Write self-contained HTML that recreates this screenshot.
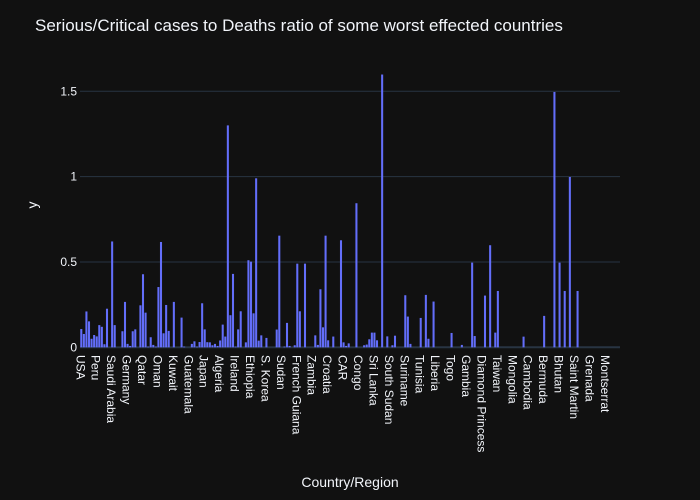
<!DOCTYPE html>
<html><head><meta charset="utf-8"><style>
html,body{margin:0;padding:0;background:#111111;}
svg{display:block;font-family:"Liberation Sans",Arial,sans-serif;}
</style></head><body>
<svg id="chart" width="700" height="500" xmlns="http://www.w3.org/2000/svg">
<rect x="0" y="0" width="700" height="500" fill="#111111"/>
<text x="35" y="31" font-size="17" fill="#f2f5fa">Serious/Critical cases to Deaths ratio of some worst effected countries</text>
<g id="grid"></g>
<g id="bars"></g>
<g id="yticks"></g>
<g id="xticks"></g>
<text transform="translate(37,205) rotate(-90)" text-anchor="middle" font-size="14" fill="#f2f5fa">y</text>
<text x="350" y="487" text-anchor="middle" font-size="14" fill="#f2f5fa">Country/Region</text>
</svg>
<script>
const N = 210;
const tickLabels = ["USA","Peru","Saudi Arabia","Germany","Qatar","Oman","Kuwait","Guatemala","Japan","Algeria","Ireland","Ethiopia","S. Korea","Sudan","French Guiana","Zambia","Croatia","CAR","Congo","Sri Lanka","South Sudan","Suriname","Tunisia","Liberia","Togo","Gambia","Diamond Princess","Taiwan","Mongolia","Cambodia","Bermuda","Bhutan","Saint Martin","Grenada","Montserrat"];
const barIndex = [0,1,2,3,4,5,6,7,8,9,10,12,13,16,17,18,19,20,21,23,24,25,26,27,28,29,30,31,32,33,34,36,39,40,43,44,45,46,47,48,49,50,51,52,53,54,55,56,57,58,59,60,61,62,64,65,66,67,68,69,70,72,76,77,79,80,81,83,84,85,87,91,92,93,94,95,96,98,101,102,103,104,107,110,111,112,113,114,115,117,119,121,122,126,127,128,132,134,135,137,144,148,152,153,157,159,161,162,172,180,184,186,188,190,193];
const barValues = [.107,.078,.21,.152,.05,.072,.064,.13,.12,.018,.226,.62,.13,.094,.266,.02,.008,.094,.105,.246,.428,.203,.004,.059,.014,.004,.353,.617,.082,.248,.096,.266,.174,.004,.02,.035,.004,.031,.258,.105,.03,.029,.012,.02,.008,.04,.133,.063,1.30,.188,.43,.004,.105,.211,.029,.51,.502,.199,.99,.039,.07,.055,.104,.654,.004,.143,.008,.012,.49,.211,.49,.07,.014,.34,.117,.654,.041,.063,.627,.029,.008,.023,.844,.012,.016,.047,.086,.086,.041,1.598,.064,.012,.068,.305,.18,.02,.172,.307,.05,.268,.084,.014,.496,.066,.303,.598,.086,.33,.0625,.184,1.496,.496,.33,.998,.33];
const yTicks = [0,0.5,1,1.5];
const yTickText = ["0","0.5","1","1.5"];

const categories = [];
for (let i=0;i<N;i++) categories.push(i%6===0 ? tickLabels[i/6] : "country-"+i);
const values = new Array(N).fill(0);
barIndex.forEach((idx,k)=>{ values[idx]=barValues[k]; });

const X0=80, X1=620, Y0=347.3, PX=170.7;
const step=(X1-X0)/N;
const xc = i => X0+(i+0.5)*step;
const ys = v => Y0 - v*PX;
const NS="http://www.w3.org/2000/svg";
const grid=document.getElementById('grid'), bars=document.getElementById('bars'),
      yt=document.getElementById('yticks'), xt=document.getElementById('xticks');

yTicks.forEach((t,k)=>{
  const l=document.createElementNS(NS,'line');
  
  
  l.setAttribute('x1',X0); l.setAttribute('x2',X1);
  l.setAttribute('y1',ys(t)); l.setAttribute('y2',ys(t));
  l.setAttribute('stroke','#283442'); l.setAttribute('stroke-width', t===0?2:1);
  grid.appendChild(l);
  const tx=document.createElementNS(NS,'text');
  
  
  tx.setAttribute('x',77); tx.setAttribute('y',ys(t)+4);
  tx.setAttribute('text-anchor','end'); tx.setAttribute('font-size','12'); tx.setAttribute('fill','#f2f5fa');
  tx.textContent=yTickText[k];
  yt.appendChild(tx);
});

values.forEach((v,i)=>{
  if(v<=0) return;
  const r=document.createElementNS(NS,'rect');
  
  
  const w=step*0.8;
  r.setAttribute('x',xc(i)-w/2); r.setAttribute('width',w);
  r.setAttribute('y',ys(v)); r.setAttribute('height',Y0-ys(v));
  r.setAttribute('fill','#636efa');
  bars.appendChild(r);
});

categories.forEach((c,i)=>{
  if(i%6!==0) return;
  const tx=document.createElementNS(NS,'text');
  
  
  tx.setAttribute('transform','translate('+(xc(i)-5)+',355) rotate(90)');
  tx.setAttribute('font-size','12'); tx.setAttribute('fill','#f2f5fa');
  tx.textContent=c;
  xt.appendChild(tx);
});
</script>
</body></html>
